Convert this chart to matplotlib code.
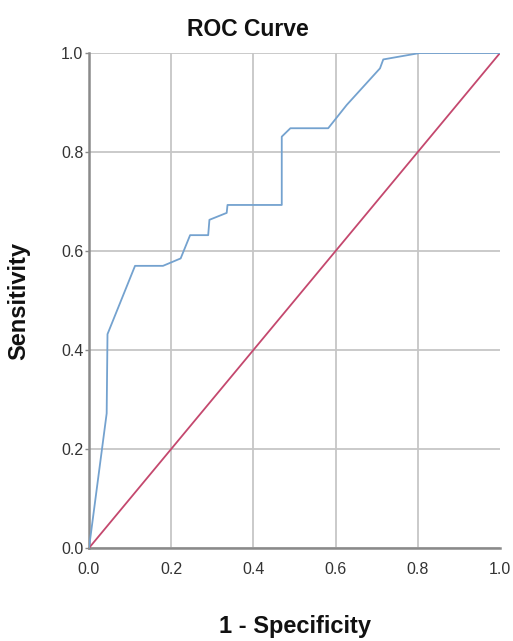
import matplotlib
matplotlib.use("Agg")
import matplotlib.pyplot as plt

# ROC curve points (1 - specificity, sensitivity)
fpr = [0.0, 0.043, 0.045, 0.112, 0.180, 0.223, 0.246, 0.290, 0.293, 0.335,
       0.337, 0.469, 0.469, 0.490, 0.582, 0.627, 0.708, 0.716, 0.805, 1.0]
tpr = [0.0, 0.272, 0.432, 0.570, 0.570, 0.585, 0.632, 0.632, 0.663, 0.677,
       0.693, 0.693, 0.831, 0.848, 0.848, 0.895, 0.969, 0.987, 1.0, 1.0]
ref_x = [0.0, 1.0]
ref_y = [0.0, 1.0]
ticks = [0.0, 0.2, 0.4, 0.6, 0.8, 1.0]
tick_labels = ["0.0", "0.2", "0.4", "0.6", "0.8", "1.0"]

plt.rcParams['font.family'] = ['Liberation Sans', 'DejaVu Sans']

W, H = 513, 641
fig = plt.figure(figsize=(W / 100, H / 100), dpi=100)
ax = fig.add_axes([89 / W, 1 - 548 / H, (500 - 89) / W, (548 - 53) / H])

ax.plot(ref_x, ref_y, color="#c4486e", lw=1.3, zorder=3)
ax.plot(fpr, tpr, color="#74a2cf", lw=1.3, zorder=4)

ax.set_xlim(0, 1)
ax.set_ylim(0, 1)
ax.set_xticks(ticks)
ax.set_xticklabels(tick_labels)
ax.set_yticks(ticks)
ax.set_yticklabels(tick_labels)

ax.grid(True, color="#c6c6c6", lw=1.3)
ax.get_xgridlines()[-1].set_visible(False)
ax.set_axisbelow(True)
for s in ("top", "right"):
    ax.spines[s].set_visible(False)
for s in ("left", "bottom"):
    ax.spines[s].set_color("#8a8a8a")
    ax.spines[s].set_linewidth(1.8)
ax.tick_params(axis="y", length=3, width=1, color="#8a8a8a",
               labelsize=11.5, labelcolor="#333333", pad=1)
ax.tick_params(axis="x", length=0, width=1, color="#8a8a8a",
               labelsize=11.5, labelcolor="#333333", pad=10)

fig.text(248 / W, 1 - 30 / H, "ROC Curve", ha="center", va="center",
         fontsize=16.5, fontweight="bold", color="#111111")
fig.text(295 / W, 1 - 626 / H, "1 - Specificity", ha="center", va="center",
         fontsize=17, fontweight="bold", color="#111111")
fig.text(19 / W, 1 - 301 / H, "Sensitivity", ha="center", va="center",
         rotation=90, fontsize=17, fontweight="bold", color="#111111")

fig.savefig("out.png", dpi=100, facecolor="white")
